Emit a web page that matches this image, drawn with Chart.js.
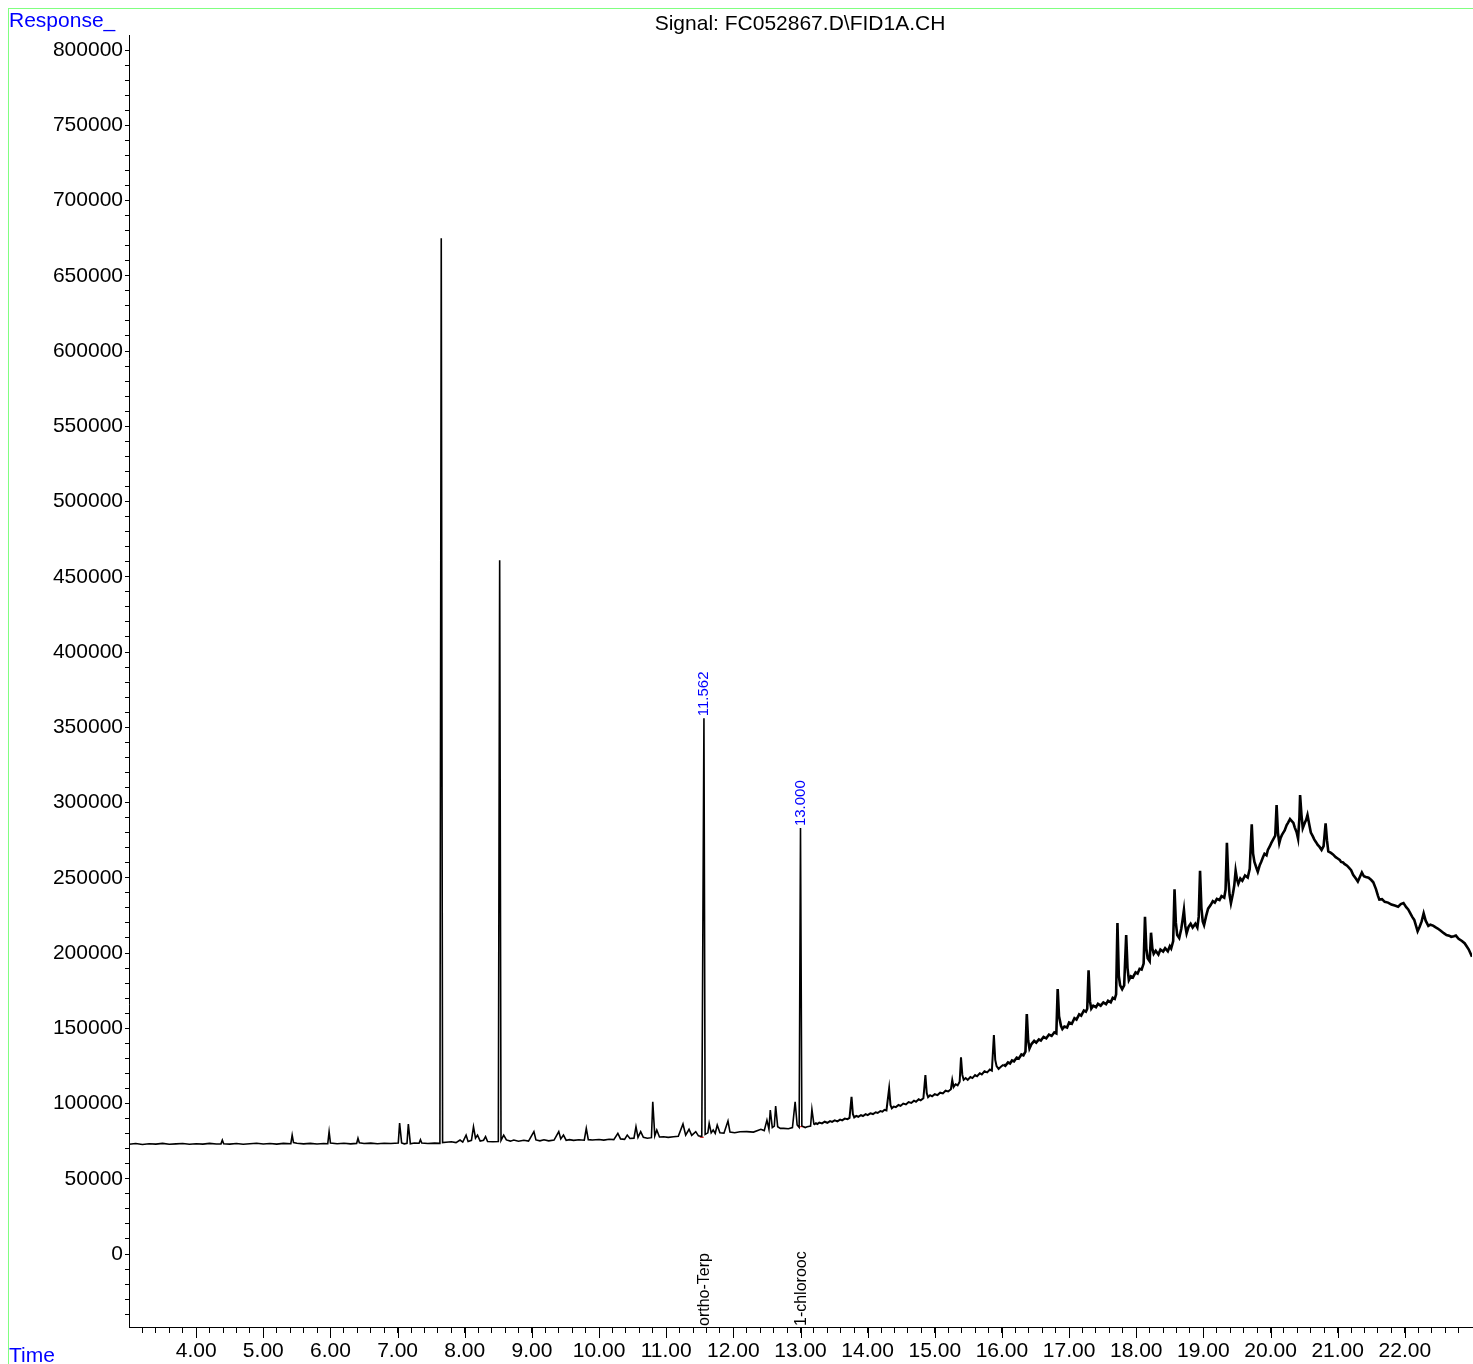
<!DOCTYPE html>
<html>
<head>
<meta charset="utf-8">
<title>FID1A chromatogram</title>
<script src="https://cdn.jsdelivr.net/npm/chart.js@4/dist/chart.umd.min.js"></script>
<style>
  body { margin: 0; background: #fff; }
  #fid_chart { display: block; }
</style>
</head>
<body>
<canvas id="fid_chart" width="1473" height="1364"></canvas>
<script>
// retention time (min), response
const signalTrace = [
  [3.00, 72900], [3.10, 73400], [3.20, 72800], [3.30, 73300], [3.40, 73000], [3.50, 73500],
  [3.60, 72900], [3.70, 73200], [3.80, 73400], [3.90, 72900], [4.00, 73300], [4.10, 73000],
  [4.20, 73500], [4.30, 73100], [4.37, 73200], [4.39, 75700], [4.41, 73300], [4.50, 73000],
  [4.60, 73400], [4.70, 72900], [4.80, 73300], [4.90, 73600], [5.00, 73100], [5.10, 73400],
  [5.20, 73000], [5.30, 73500], [5.41, 73300], [5.43, 79000], [5.45, 74000], [5.50, 73600],
  [5.60, 73200], [5.70, 73500], [5.80, 73100], [5.90, 73400], [5.96, 73300], [5.98, 81300],
  [6.00, 73800], [6.10, 73300], [6.20, 73600], [6.30, 73200], [6.39, 73500], [6.41, 76900],
  [6.43, 73900], [6.50, 73400], [6.60, 73700], [6.70, 73300], [6.80, 73600], [6.90, 73400],
  [7.01, 73700], [7.03, 87000], [7.06, 73800], [7.10, 73200], [7.14, 73600], [7.16, 86400],
  [7.19, 73300], [7.25, 73800], [7.32, 73600], [7.34, 75900], [7.36, 73700], [7.45, 73400],
  [7.55, 73700], [7.63, 73500], [7.65, 675000], [7.67, 74000], [7.72, 74300], [7.80, 74600],
  [7.87, 74000], [7.93, 75700], [7.97, 74400], [8.02, 79000], [8.05, 74800], [8.10, 75500],
  [8.13, 84600], [8.16, 77000], [8.19, 79000], [8.23, 75000], [8.28, 75600], [8.31, 78000],
  [8.34, 74800], [8.42, 74600], [8.50, 74700], [8.52, 461000], [8.54, 75500], [8.58, 79000],
  [8.62, 75800], [8.68, 75000], [8.73, 75700], [8.80, 74900], [8.88, 75600], [8.95, 75000],
  [9.03, 81300], [9.06, 75800], [9.12, 75200], [9.18, 75900], [9.25, 75200], [9.33, 75700],
  [9.40, 81300], [9.43, 76500], [9.47, 79000], [9.51, 75600], [9.56, 76000], [9.62, 75500],
  [9.70, 75900], [9.78, 75600], [9.81, 83500], [9.84, 76000], [9.90, 75800], [10.00, 76100],
  [10.07, 75700], [10.15, 76300], [10.22, 76000], [10.28, 80200], [10.32, 76500], [10.38, 76200],
  [10.42, 79000], [10.46, 76800], [10.52, 77000], [10.55, 84600], [10.58, 77500], [10.62, 81300],
  [10.66, 77500], [10.72, 76900], [10.78, 77300], [10.80, 101200], [10.83, 78500], [10.86, 82400],
  [10.90, 77800], [10.96, 77900], [11.03, 77500], [11.11, 77900], [11.18, 78300], [11.25, 86400],
  [11.29, 79000], [11.34, 82900], [11.38, 78800], [11.44, 81300], [11.48, 78500], [11.53, 78000],
  [11.562, 356000], [11.58, 79500], [11.62, 80500], [11.64, 86800], [11.67, 80500], [11.70, 82400],
  [11.73, 80200], [11.76, 85700], [11.80, 80600], [11.86, 80300], [11.92, 88400], [11.95, 81000],
  [12.02, 80600], [12.10, 81200], [12.20, 81300], [12.30, 81000], [12.41, 82900], [12.46, 82000],
  [12.50, 89000], [12.53, 83000], [12.55, 95700], [12.58, 84000], [12.61, 85000], [12.63, 98300],
  [12.66, 84600], [12.70, 83500], [12.75, 83500], [12.82, 83200], [12.88, 84000], [12.92, 101200],
  [12.95, 85700], [12.98, 84200], [13.00, 283000], [13.02, 85000], [13.07, 84000], [13.10, 84600],
  [13.15, 85000], [13.17, 96100],
  [13.20, 86000], [13.23, 86900], [13.25, 86300], [13.28, 87300], [13.32, 86800], [13.36, 87900],
  [13.40, 87200], [13.44, 88300], [13.47, 87800], [13.51, 88800], [13.55, 88100], [13.59, 89300],
  [13.62, 88800], [13.66, 90000], [13.70, 89600], [13.73, 90500], [13.76, 104500], [13.78, 93000],
  [13.80, 90800], [13.83, 91800], [13.86, 91200], [13.90, 92300], [13.93, 91700], [13.97, 92900],
  [14.00, 92300], [14.04, 93500], [14.08, 93000], [14.12, 94200], [14.15, 93700], [14.19, 95000],
  [14.22, 94600], [14.25, 95800], [14.28, 95400], [14.32, 110000], [14.34, 99000], [14.36, 96800],
  [14.39, 98000], [14.42, 97600], [14.46, 99000], [14.49, 98400], [14.53, 100000], [14.57, 99400],
  [14.61, 101000], [14.65, 100400], [14.69, 101900], [14.72, 101200], [14.76, 102800], [14.79, 102100],
  [14.83, 103500], [14.86, 118900], [14.88, 107000], [14.90, 104200], [14.93, 105500], [14.96, 104800],
  [15.00, 106200], [15.04, 105600], [15.08, 107200], [15.12, 106700], [15.16, 108500], [15.20, 108000],
  [15.24, 109500], [15.26, 115600], [15.28, 111000], [15.31, 112800], [15.34, 112000], [15.37, 114500],
  [15.39, 130700], [15.41, 119000], [15.43, 115800], [15.46, 116900], [15.49, 115700], [15.53, 117600],
  [15.56, 116900], [15.60, 118900], [15.63, 118100], [15.67, 120100], [15.70, 119300], [15.74, 121400],
  [15.78, 120700], [15.82, 122600], [15.85, 121900], [15.88, 145500], [15.90, 129000], [15.92, 124800],
  [15.95, 123000], [15.98, 124200], [16.02, 125800], [16.05, 125000], [16.09, 127300], [16.12, 126600],
  [16.15, 128600], [16.18, 128000], [16.22, 130500], [16.25, 129800], [16.29, 132600], [16.32, 132000],
  [16.35, 134500], [16.37, 159500], [16.39, 142000], [16.41, 136500], [16.44, 139500], [16.48, 141600],
  [16.51, 140500], [16.55, 142600], [16.58, 141800], [16.62, 144300], [16.66, 143300], [16.70, 145800],
  [16.74, 144900], [16.78, 147300], [16.81, 146600], [16.83, 176000], [16.85, 158000], [16.88, 151500],
  [16.90, 149500], [16.93, 151200], [16.97, 150500], [17.00, 153800], [17.04, 153000], [17.08, 156700],
  [17.11, 155800], [17.15, 159200], [17.18, 158400], [17.22, 161800], [17.25, 161000], [17.27, 163000],
  [17.29, 188500], [17.31, 168000], [17.33, 163000], [17.36, 165000], [17.40, 164000], [17.43, 166200],
  [17.47, 165000], [17.51, 167200], [17.55, 166000], [17.58, 168300], [17.62, 167200], [17.65, 170200],
  [17.68, 169500], [17.70, 172500], [17.72, 220000], [17.74, 185000], [17.76, 178500], [17.79, 176000],
  [17.82, 178500], [17.85, 212000], [17.87, 190000], [17.89, 182000], [17.92, 184500], [17.95, 183800],
  [17.99, 187200], [18.02, 186300], [18.05, 189500], [18.08, 189000], [18.11, 193000], [18.13, 224000],
  [18.15, 203000], [18.17, 196500], [18.20, 194500], [18.22, 213500], [18.24, 203000], [18.26, 199500],
  [18.29, 201500], [18.33, 199000], [18.36, 202300], [18.40, 201000], [18.43, 203200], [18.47, 201200],
  [18.50, 204500], [18.52, 203000], [18.55, 208000], [18.57, 242300], [18.59, 220000], [18.61, 212000],
  [18.64, 210000], [18.67, 216000], [18.69, 222000], [18.71, 228600], [18.73, 218000], [18.75, 213000],
  [18.78, 217500], [18.81, 219500], [18.84, 217000], [18.88, 219500], [18.91, 217000], [18.93, 224000],
  [18.95, 254700], [18.97, 230000], [18.99, 221000], [19.01, 218500], [19.04, 224500], [19.07, 229500],
  [19.11, 232000], [19.14, 234500], [19.17, 233500], [19.20, 236000], [19.24, 235200], [19.27, 237800],
  [19.31, 236800], [19.33, 242000], [19.35, 273300], [19.37, 250000], [19.39, 238500], [19.41, 233000],
  [19.44, 239500], [19.46, 245000], [19.48, 254700], [19.50, 249000], [19.52, 246000], [19.55, 249500],
  [19.58, 248000], [19.62, 251500], [19.66, 250200], [19.69, 256000], [19.72, 285500], [19.74, 266000],
  [19.76, 260500], [19.79, 256500], [19.81, 254000], [19.84, 258500], [19.86, 260500], [19.89, 264000],
  [19.91, 266000], [19.94, 265000], [19.96, 268500], [19.99, 271000], [20.01, 273000], [20.04, 275500],
  [20.07, 278000], [20.09, 298300], [20.11, 280000], [20.13, 273000], [20.15, 276500], [20.17, 278500],
  [20.19, 280000], [20.21, 281500], [20.24, 285000], [20.26, 286500], [20.29, 289000], [20.31, 288000],
  [20.34, 286500], [20.36, 283500], [20.39, 280000], [20.41, 276000], [20.43, 290000], [20.44, 305000],
  [20.46, 292000], [20.48, 283000], [20.51, 286500], [20.53, 288500], [20.55, 291700], [20.58, 284500],
  [20.60, 280000], [20.63, 277500], [20.65, 275500], [20.68, 273500], [20.70, 272000], [20.73, 270500],
  [20.76, 268500], [20.79, 271000], [20.82, 286200], [20.84, 275000], [20.86, 267500], [20.90, 266500],
  [20.93, 265500], [20.97, 263700], [21.00, 262800], [21.03, 261900], [21.05, 260500], [21.08, 260200],
  [21.10, 259200], [21.14, 258000], [21.17, 256500], [21.20, 255000], [21.23, 252000], [21.27, 249500],
  [21.30, 247500], [21.33, 250500], [21.36, 253500], [21.39, 251000], [21.42, 250500], [21.46, 250000],
  [21.50, 248500], [21.53, 247000], [21.57, 242500], [21.60, 238000], [21.62, 235500], [21.66, 235800],
  [21.70, 234000], [21.75, 233500], [21.80, 232200], [21.85, 231500], [21.90, 230800], [21.94, 232500],
  [21.98, 233200], [22.02, 230500], [22.05, 229000], [22.08, 226500], [22.11, 224000], [22.14, 222000],
  [22.17, 217500], [22.19, 214500], [22.22, 217500], [22.25, 221000], [22.28, 226400], [22.31, 221500],
  [22.35, 218000], [22.38, 218800], [22.42, 218200], [22.46, 217000], [22.49, 216300], [22.53, 215000],
  [22.58, 213200], [22.62, 212000], [22.66, 211500], [22.69, 210800], [22.73, 211200], [22.76, 211600],
  [22.80, 209500], [22.85, 208000], [22.89, 206500], [22.92, 204500], [22.95, 202500], [22.98, 199500],
  [23.00, 197500]
];

// integration baselines drawn in red under the two integrated peaks
const integrationBase1 = [[11.50, 77600], [11.56, 77600]];
const integrationBase2 = [[12.96, 84600], [13.06, 84600]];

const peakTimes = [11.562, 13.0];
const peakHeights = [356000, 283000];
const peakLabels = ["11.562", "13.000"];

const compoundTimes = [11.562, 13.0];
const compoundNames = ["ortho-Terp", "1-chlorooc"];

const majorTimes = [4, 5, 6, 7, 8, 9, 10, 11, 12, 13, 14, 15, 16, 17, 18, 19, 20, 21, 22];
const responseLabels = [0, 50000, 100000, 150000, 200000, 250000, 300000, 350000, 400000,
  450000, 500000, 550000, 600000, 650000, 700000, 750000, 800000];

const FONT = "'Liberation Sans', Arial, sans-serif";

const chromLabels = {
  id: "chromLabels",
  afterDraw(chart) {
    const ctx = chart.ctx;
    const xs = chart.scales.x;
    const ys = chart.scales.y;
    const area = chart.chartArea;
    ctx.save();

    // green frame
    ctx.strokeStyle = "#80ff80";
    ctx.lineWidth = 1;
    ctx.strokeRect(8.5, 8.5, 1480, 1400);

    // long ticks on the whole minutes
    ctx.strokeStyle = "#000";
    ctx.beginPath();
    majorTimes.forEach((t) => {
      const px = Math.round(xs.getPixelForValue(t)) + 0.5;
      ctx.moveTo(px, area.bottom);
      ctx.lineTo(px, area.bottom + 11);
    });
    ctx.stroke();

    ctx.font = "21px " + FONT;
    ctx.fillStyle = "#0000ff";
    ctx.textAlign = "left";
    ctx.textBaseline = "alphabetic";
    ctx.fillText("Response_", 9, 27);
    ctx.fillText("Time", 9, 1362);

    ctx.fillStyle = "#000";
    ctx.textAlign = "center";
    ctx.fillText("Signal: FC052867.D\\FID1A.CH", 800, 30);

    // retention time labels above integrated peaks
    ctx.font = "15px " + FONT;
    ctx.fillStyle = "#0000ff";
    ctx.textAlign = "left";
    ctx.textBaseline = "middle";
    peakTimes.forEach((t, i) => {
      const px = xs.getPixelForValue(t);
      const py = ys.getPixelForValue(peakHeights[i]);
      ctx.save();
      ctx.translate(px, py - 2);
      ctx.rotate(-Math.PI / 2);
      ctx.fillText(peakLabels[i], 0, 0);
      ctx.restore();
    });

    // compound names along the time axis
    ctx.font = "16px " + FONT;
    ctx.fillStyle = "#000";
    compoundTimes.forEach((t, i) => {
      const px = xs.getPixelForValue(t);
      ctx.save();
      ctx.translate(px + 1, area.bottom - 1);
      ctx.rotate(-Math.PI / 2);
      ctx.fillText(compoundNames[i], 0, 0);
      ctx.restore();
    });

    ctx.restore();
  },
};

document.addEventListener("DOMContentLoaded", function () {
  new Chart(document.getElementById("fid_chart"), {
    type: "scatter",
    data: {
      datasets: [
        {
          label: "FID1A",
          data: signalTrace.map((p) => ({ x: p[0], y: p[1] })),
          showLine: true,
          borderColor: "#000",
          borderWidth: 1.6,
          pointRadius: 0,
          tension: 0,
          order: 1,
          // the detector noise gets thicker as the baseline climbs
          segment: {
            borderWidth: (c) => (c.p0.parsed.x < 13.2 ? 1.6 : c.p0.parsed.x < 16 ? 2 : 2.6),
          },
        },
        {
          label: "base 1",
          data: integrationBase1.map((p) => ({ x: p[0], y: p[1] })),
          showLine: true,
          borderColor: "#ff0000",
          borderWidth: 1,
          pointRadius: 0,
          order: 2,
        },
        {
          label: "base 2",
          data: integrationBase2.map((p) => ({ x: p[0], y: p[1] })),
          showLine: true,
          borderColor: "#ff0000",
          borderWidth: 1,
          pointRadius: 0,
          order: 2,
        },
      ],
    },
    options: {
      responsive: false,
      animation: false,
      devicePixelRatio: 1,
      layout: { padding: { top: 35, right: 1, left: 0, bottom: 0 } },
      plugins: {
        legend: { display: false },
        tooltip: { enabled: false },
      },
      scales: {
        x: {
          type: "linear",
          min: 3,
          max: 23,
          afterBuildTicks: (scale) => {
            const ticks = [];
            for (let i = 16; i <= 114; i++) ticks.push({ value: i / 5 });
            scale.ticks = ticks;
          },
          afterFit: (scale) => { scale.height = 37; },
          ticks: {
            autoSkip: false,
            maxRotation: 0,
            padding: 6,
            color: "#000",
            font: { family: FONT, size: 21 },
            callback: (value) => {
              const r = Math.round(value);
              if (Math.abs(value - r) < 1e-6 && majorTimes.includes(r)) return r.toFixed(2);
              return "";
            },
          },
          grid: { drawOnChartArea: false, tickLength: 6, color: "#000" },
          border: { display: true, color: "#000", width: 1 },
        },
        y: {
          type: "linear",
          min: -48500,
          max: 810000,
          afterBuildTicks: (scale) => {
            const ticks = [];
            for (let v = -40000; v <= 800000; v += 10000) ticks.push({ value: v });
            scale.ticks = ticks;
          },
          afterFit: (scale) => { scale.width = 129; },
          ticks: {
            autoSkip: false,
            padding: 2,
            color: "#000",
            font: { family: FONT, size: 21 },
            callback: (value) => (responseLabels.includes(value) ? String(value) : ""),
          },
          grid: { drawOnChartArea: false, tickLength: 4, color: "#000" },
          border: { display: true, color: "#000", width: 1 },
        },
      },
    },
    plugins: [chromLabels],
  });
});
</script>
</body>
</html>
